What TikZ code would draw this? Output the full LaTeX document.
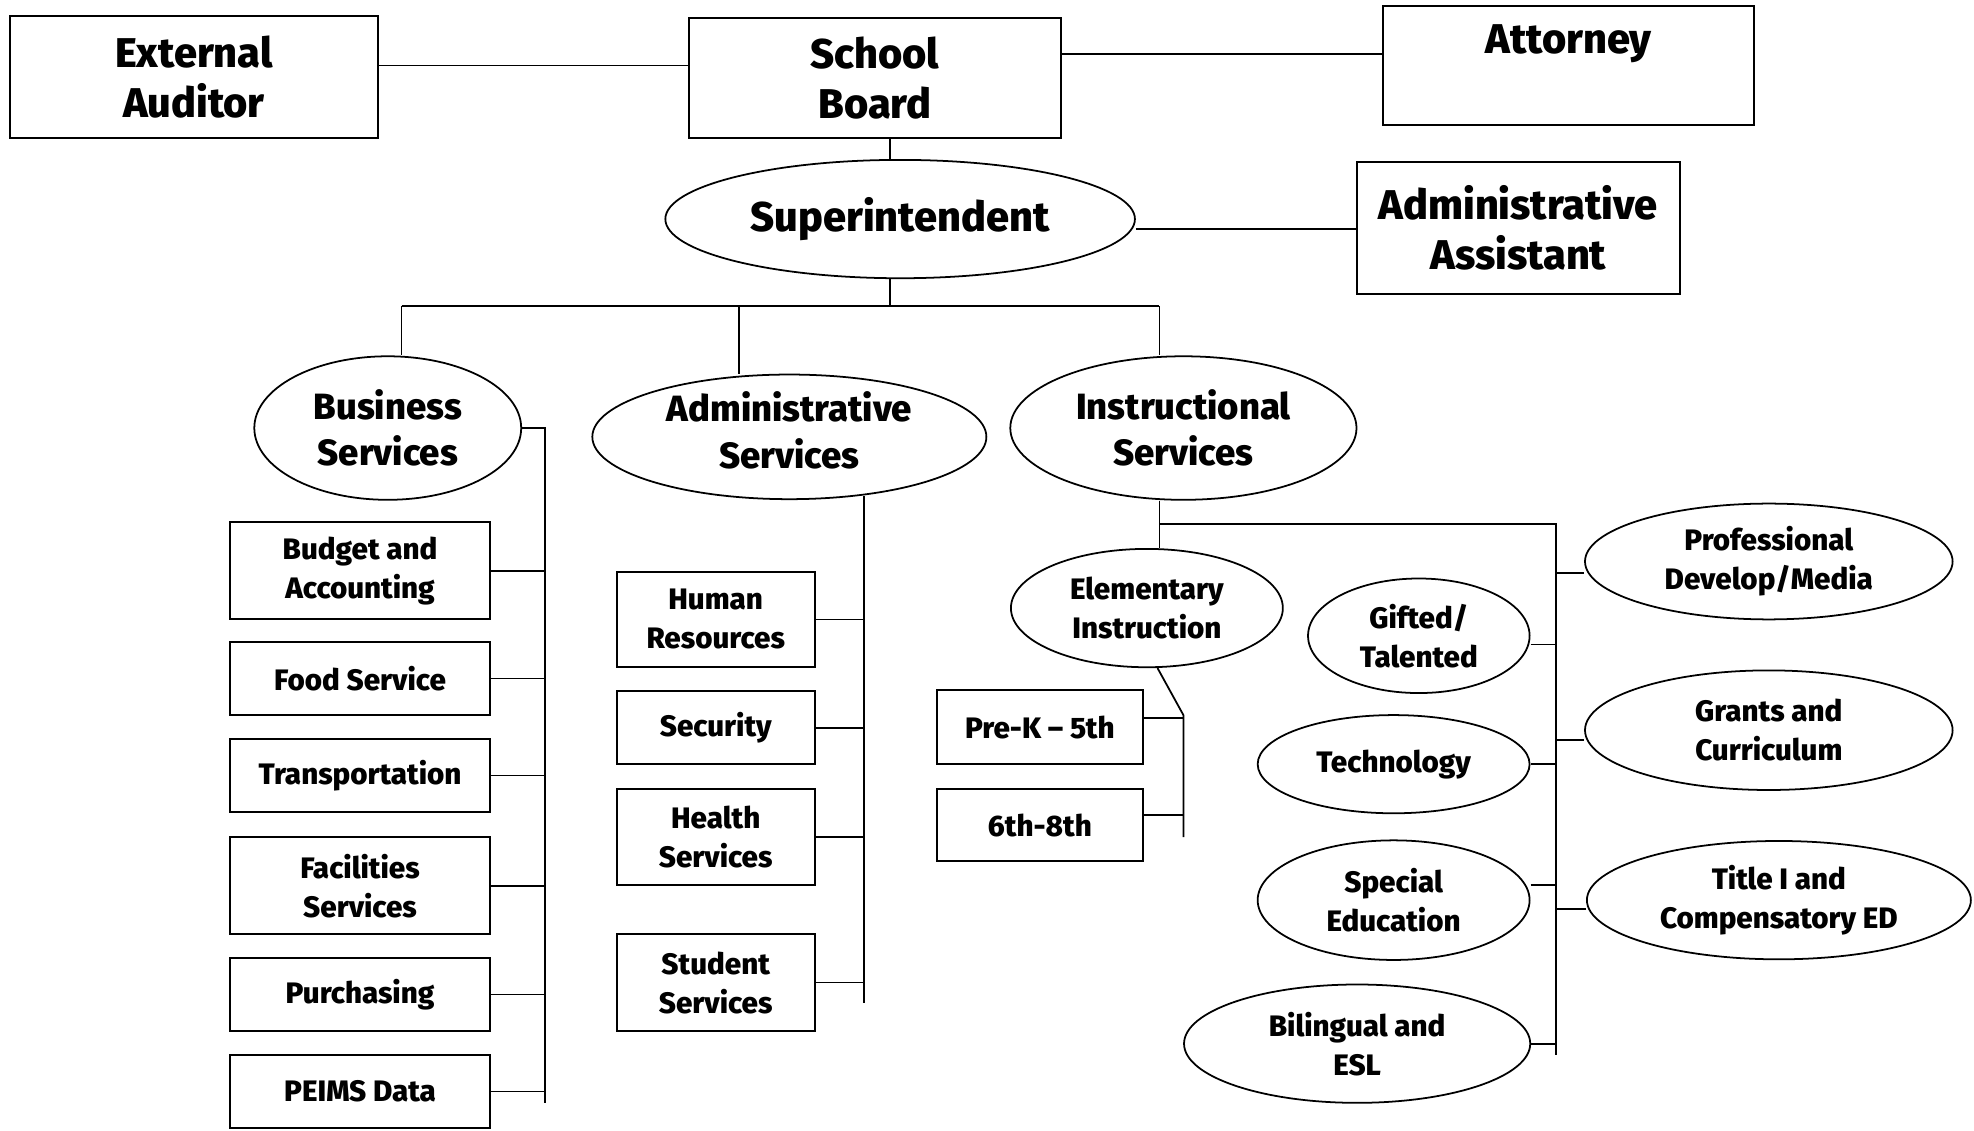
\documentclass[tikz,border=0pt]{standalone}
\usepackage{fontspec}
\setmainfont{Fira Sans}[BoldFont={Fira Sans ExtraBold}]
\usetikzlibrary{shapes.geometric}
\tikzset{
  box/.style={draw, line width=1.6pt, rectangle, inner sep=0pt, align=center},
  oval/.style={draw, line width=1.4pt, ellipse, inner sep=0pt, align=center},
  big/.style={font=\fontsize{33}{40}\selectfont\bfseries, align=center},
  mid/.style={font=\fontsize{29}{37}\selectfont\bfseries, align=center},
  sub/.style={font=\fontsize{23.5}{31}\selectfont\bfseries},
  conn/.style={line width=1.4pt}
}
\begin{document}
\begin{tikzpicture}[x=1pt,y=-1pt]
\useasboundingbox (0,0) rectangle (1568,898);
% top level
\node[box,big,minimum width=292pt,minimum height=97pt] (ea) at (154,61) {External\\Auditor};
\node[box,big,minimum width=295pt,minimum height=95pt] (sb) at (695,62) {School\\Board};
\node[box,minimum width=295pt,minimum height=95pt] (att) at (1246,52) {};
\node[big] (attt) at (1246,35) {Attorney};
\node[oval,big,minimum width=373pt,minimum height=94pt] (sup) at (715,174) {Superintendent};
\node[box,big,minimum width=257pt,minimum height=105pt] (aa) at (1206,181) {Administrative\\Assistant};
% second level
\node[oval,mid,minimum width=212pt,minimum height=114pt] (bs) at (308,340) {Business\\Services};
\node[oval,minimum width=313pt,minimum height=99pt] (as) at (627,347) {};
\node[mid] (ast) at (627,342) {Administrative\\Services};
\node[oval,mid,minimum width=275pt,minimum height=114pt] (is) at (940,340) {Instructional\\Services};
% business
\node[box,sub,minimum width=206pt,minimum height=77pt] (ba) at (286,453.5) {Budget and\\Accounting};
\node[box,sub,minimum width=206pt,minimum height=58pt] (fs) at (286,539) {Food Service};
\node[box,sub,minimum width=206pt,minimum height=58pt] (tr) at (286,616) {Transportation};
\node[box,sub,minimum width=206pt,minimum height=77pt] (fa) at (286,703.5) {Facilities\\Services};
\node[box,sub,minimum width=206pt,minimum height=58pt] (pu) at (286,790) {Purchasing};
\node[box,sub,minimum width=206pt,minimum height=58pt] (pe) at (286,867) {PEIMS Data};
% admin
\node[box,sub,minimum width=157pt,minimum height=76pt] (hr) at (568.5,492) {Human\\Resources};
\node[box,sub,minimum width=157pt,minimum height=58pt] (sec) at (568.5,578) {Security};
\node[box,sub,minimum width=157pt,minimum height=76pt] (hs) at (568.5,665) {Health\\Services};
\node[box,sub,minimum width=157pt,minimum height=77pt] (ss) at (568.5,780.5) {Student\\Services};
% instructional
\node[oval,sub,minimum width=216pt,minimum height=94pt] (el) at (911,483) {Elementary\\Instruction};
\node[box,sub,minimum width=164pt,minimum height=59pt] (pk) at (826,577.5) {Pre-K -- 5th};
\node[box,sub,minimum width=164pt,minimum height=57pt] (ms) at (826,655.5) {6th-8th};
\node[oval,sub,minimum width=176pt,minimum height=91pt] (gt) at (1127,505) {Gifted/\\Talented};
\node[oval,sub,minimum width=216pt,minimum height=78pt] (te) at (1107,607) {Technology};
\node[oval,sub,minimum width=216pt,minimum height=95pt] (spe) at (1107,715) {Special\\Education};
\node[oval,sub,minimum width=275pt,minimum height=94pt] (bi) at (1078,829) {Bilingual and\\ESL};
\node[oval,sub,minimum width=292pt,minimum height=92pt] (pd) at (1405,446) {Professional\\Develop/Media};
\node[oval,sub,minimum width=292pt,minimum height=95pt] (gc) at (1405,580) {Grants and\\Curriculum};
\node[oval,sub,minimum width=305pt,minimum height=94pt] (ti) at (1413,715) {Title I and\\Compensatory ED};
% coordinates
\coordinate (j1) at (707,243);
\coordinate (busL) at (319,243);
\coordinate (busM) at (587,243);
\coordinate (busR) at (921,243);
\coordinate (bbT) at (433,340);
\coordinate (bbB) at (433,876);
\coordinate (abT) at (686,394);
\coordinate (abB) at (686,797);
\coordinate (iJ) at (921,416);
\coordinate (iR) at (1236,416);
\coordinate (rB) at (1236,838);
\coordinate (eK) at (940,568);
\coordinate (eB) at (940,665);
% connectors
\draw[conn] ([yshift=9pt]ea.east) -- ([yshift=9pt]ea.east -| sb.west);
\draw[conn] ([yshift=19pt]sb.east) -- ([yshift=19pt]sb.east -| att.west);
\draw[conn] (sb.south -| j1) -- (sup.north -| j1);
\draw[conn] ([yshift=-8pt]sup.east) -- ([yshift=-8pt]sup.east -| aa.west);
\draw[conn] (sup.south -| j1) -- (j1);
\draw[conn] (busL) -- (busR);
\draw[conn] (busL) -- (busL |- bs.north);
\draw[conn] (busM) -- (busM |- as.north);
\draw[conn] (busR) -- (busR |- is.north);
% business bus
\draw[conn] (bs.east) -- (bbT) -- (bbB);
\foreach \n in {ba,fs,tr,fa,pu,pe} \draw[conn] (\n.east) -- (\n.east -| bbT);
% admin bus
\draw[conn] (abT) -- (abB);
\foreach \n in {hr,sec,hs,ss} \draw[conn] (\n.east) -- (\n.east -| abT);
% instructional
\draw[conn] (is.south -| iJ) -- (el.north -| iJ);
\draw[conn] (iJ) -- (iR) -- (rB);
\draw[conn] (el.-80) -- (eK) -- (eB);
\draw[conn] ([yshift=7pt]pk.east) -- ([yshift=7pt]pk.east -| eK);
\draw[conn] ([yshift=8pt]ms.east) -- ([yshift=8pt]ms.east -| eK);
\draw[conn] ([yshift=-7pt]gt.east) -- ([yshift=-7pt]gt.east -| rB);
\draw[conn] (te.east) -- (te.east -| rB);
\draw[conn] ([yshift=12pt]spe.east) -- ([yshift=12pt]spe.east -| rB);
\draw[conn] (bi.east) -- (bi.east -| rB);
\draw[conn] ([yshift=-9pt]pd.west) -- ([yshift=-9pt]pd.west -| rB);
\draw[conn] ([yshift=-8pt]gc.west) -- ([yshift=-8pt]gc.west -| rB);
\draw[conn] ([yshift=-7pt]ti.west) -- ([yshift=-7pt]ti.west -| rB);
\end{tikzpicture}
\end{document}
